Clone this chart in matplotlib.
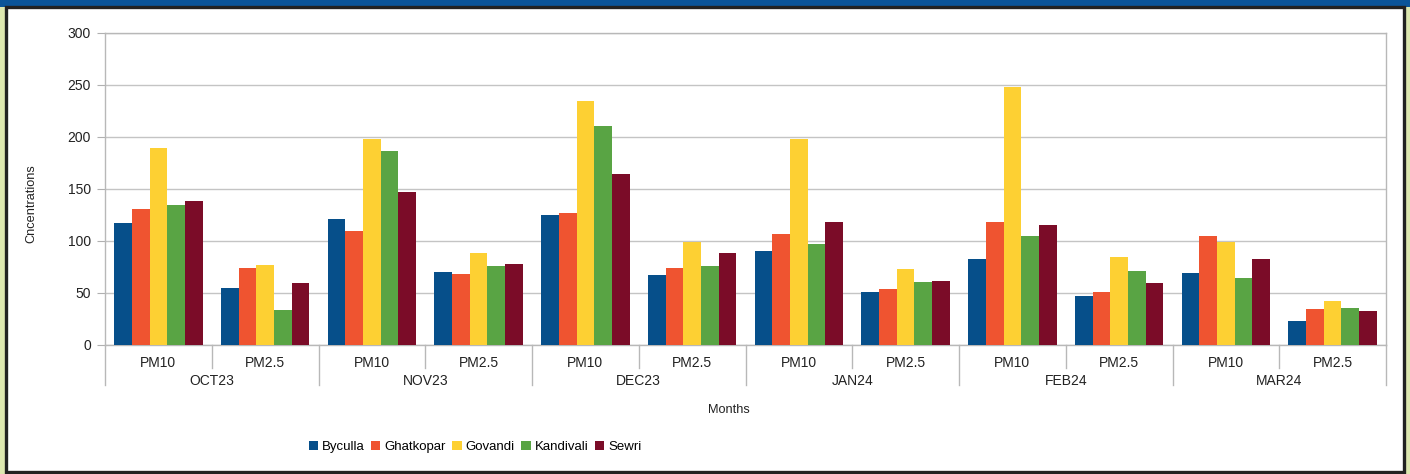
import matplotlib
matplotlib.use("Agg")
import matplotlib.pyplot as plt
from matplotlib.patches import Rectangle
import matplotlib.transforms as mtransforms
import numpy as np

plt.rcParams['font.family'] = ['Liberation Sans', 'DejaVu Sans']

months = ["OCT23", "NOV23", "DEC23", "JAN24", "FEB24", "MAR24"]
pollutants = ["PM10", "PM2.5"]
stations = ["Byculla", "Ghatkopar", "Govandi", "Kandivali", "Sewri"]

# values per station, order: OCT23 PM10, OCT23 PM2.5, NOV23 PM10, ...
byculla   = [117, 55, 121, 70, 125, 67, 90, 51, 83, 47, 69, 23]
ghatkopar = [131, 74, 110, 68, 127, 74, 107, 54, 118, 51, 105, 35]
govandi   = [189, 77, 198, 88, 235, 99, 198, 73, 248, 85, 99, 42]
kandivali = [135, 34, 187, 76, 211, 76, 97, 61, 105, 71, 64, 36]
sewri     = [138, 60, 147, 78, 164, 88, 118, 62, 115, 60, 83, 33]

series = [byculla, ghatkopar, govandi, kandivali, sewri]
colors = ["#064f8a", "#ef5430", "#fdd033", "#59a444", "#7b0c28"]

W, H = 1410, 474
fig = plt.figure(figsize=(W / 100, H / 100), dpi=100, facecolor="#dde8b0")

# frame decorations
fig.patches.append(Rectangle((0, 1 - 7 / H), 1, 7 / H, transform=fig.transFigure,
                             facecolor="#0a5499", edgecolor="none", zorder=-10))
fig.patches.append(Rectangle((6 / W, 2 / H), (1404 - 6) / W, (467 - 2) / H,
                             transform=fig.transFigure, facecolor="white",
                             edgecolor="#222222", linewidth=2.4, zorder=-10))

ax = fig.add_axes([105 / W, 129 / H, (1386 - 105) / W, (345 - 33) / H])
ax.set_facecolor("white")

n = len(byculla)
x = np.arange(n)
bw = 0.166
for j, (vals, c, name) in enumerate(zip(series, colors, stations)):
    ax.bar(x + (j - 2) * bw, vals, width=bw, color=c, label=name, zorder=3)

ax.set_xlim(-0.5, n - 0.5)
ax.set_ylim(0, 300)
ax.set_yticks(np.arange(0, 301, 50))
ax.yaxis.grid(True, color="#c4c4c4", linewidth=1.0, zorder=0)
ax.tick_params(axis="y", length=6, color="#b0b0b0", labelsize=10, labelcolor="#222222", pad=4)
ax.set_xticks([])
for s in ax.spines.values():
    s.set_color("#b8b8b8")
    s.set_linewidth(1.0)

trans = mtransforms.blended_transform_factory(ax.transData, ax.transAxes)
# pollutant labels and separators
for i in range(n):
    ax.text(i, -0.058, pollutants[i % 2], transform=trans, ha="center", va="center",
            fontsize=10, color="#222222")
for i in range(n + 1):
    xb = i - 0.5
    if i % 2 == 0:
        ax.plot([xb, xb], [0, -0.128], transform=trans, color="#b8b8b8", lw=1.0, clip_on=False)
    else:
        ax.plot([xb, xb], [0, -0.074], transform=trans, color="#b8b8b8", lw=1.0, clip_on=False)
for k, m in enumerate(months):
    ax.text(2 * k + 0.5, -0.115, m, transform=trans, ha="center", va="center",
            fontsize=10, color="#222222")

fig.text(31 / W, 1 - 204 / H, "Cncentrations", rotation=90, ha="center", va="center",
         fontsize=9.2, color="#222222")
fig.text(729 / W, 1 - 410 / H, "Months", ha="center", va="center",
         fontsize=9.2, color="#222222")

handles, labels = ax.get_legend_handles_labels()
fig.legend(handles, labels, loc="center", bbox_to_anchor=(475 / W, 1 - 447 / H), ncol=5,
           frameon=False, fontsize=9.5, handlelength=0.7, handleheight=0.7,
           handletextpad=0.3, columnspacing=0.5)

fig.savefig("out.png", dpi=100, facecolor=fig.get_facecolor())
